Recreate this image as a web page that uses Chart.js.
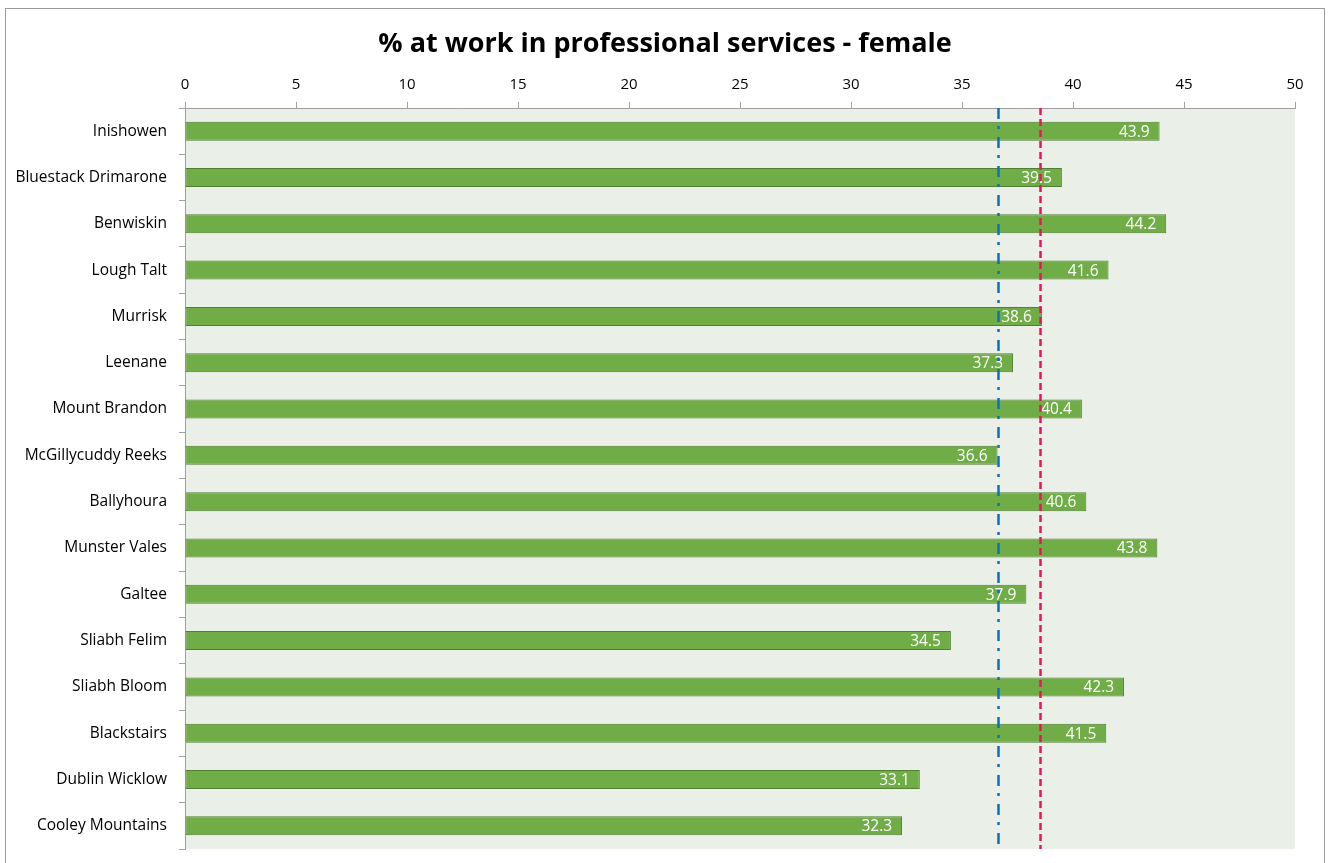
<!DOCTYPE html>
<html>
<head>
<meta charset="utf-8">
<script src="https://cdn.jsdelivr.net/npm/chart.js@4"></script>
<style>
  html, body { margin: 0; padding: 0; background: #fff; }
</style>
</head>
<body>
<canvas id="proChart" width="1330" height="863"></canvas>
<script>
const areas = [
  "Inishowen", "Bluestack Drimarone", "Benwiskin", "Lough Talt", "Murrisk",
  "Leenane", "Mount Brandon", "McGillycuddy Reeks", "Ballyhoura", "Munster Vales",
  "Galtee", "Sliabh Felim", "Sliabh Bloom", "Blackstairs", "Dublin Wicklow",
  "Cooley Mountains"
];
const femalePct = [43.9, 39.5, 44.2, 41.6, 38.6, 37.3, 40.4, 36.6, 40.6, 43.8, 37.9, 34.5, 42.3, 41.5, 33.1, 32.3];
const xTickValues = [0, 5, 10, 15, 20, 25, 30, 35, 40, 45, 50];
const blueLine = 36.6;   // dash-dot reference
const redLine = 38.5;    // dashed reference
const chartTitle = "% at work in professional services - female";

const FONT = "'Open Sans', Lato, sans-serif";
Chart.defaults.font.family = FONT;
Chart.defaults.color = "#000";

// frame around the whole chart, shaded plot area and the title
const backdrop = {
  id: "backdrop",
  beforeDraw(chart) {
    const { ctx, chartArea: a } = chart;
    ctx.save();
    ctx.fillStyle = "#fff";
    ctx.fillRect(0, 0, chart.width, chart.height);
    ctx.strokeStyle = "#9a9a9a";
    ctx.lineWidth = 1;
    ctx.strokeRect(5.5, 8.5, 1319, 880);
    ctx.fillStyle = "#EAEFE7";
    ctx.fillRect(a.left, a.top, a.right - a.left, a.bottom - a.top);
    ctx.fillStyle = "#000";
    ctx.font = "bold 27px " + FONT;
    ctx.textAlign = "center";
    ctx.textBaseline = "alphabetic";
    ctx.fillText(chartTitle, chart.width / 2, 52);
    ctx.restore();
  }
};

// white value labels at the inner end of each bar
const barValues = {
  id: "barValues",
  afterDatasetsDraw(chart) {
    const { ctx } = chart;
    const meta = chart.getDatasetMeta(0);
    ctx.save();
    ctx.font = "15.5px " + FONT;
    ctx.fillStyle = "#fff";
    ctx.textAlign = "right";
    ctx.textBaseline = "middle";
    meta.data.forEach((bar, i) => {
      ctx.fillText(femalePct[i].toFixed(1), bar.x - 10, bar.y + 1);
    });
    ctx.restore();
  }
};

// vertical reference lines
const refLines = {
  id: "refLines",
  afterDraw(chart) {
    const { ctx, chartArea: a, scales } = chart;
    const drawLine = (value, color, dash) => {
      const x = Math.round(scales.x.getPixelForValue(value)) + 0.5;
      ctx.save();
      ctx.strokeStyle = color;
      ctx.lineWidth = 2.5;
      ctx.setLineDash(dash);
      ctx.beginPath();
      ctx.moveTo(x, a.top);
      ctx.lineTo(x, a.bottom);
      ctx.stroke();
      ctx.restore();
    };
    drawLine(blueLine, "#0A70C4", [11, 7, 3, 8]);
    drawLine(redLine, "#F2105E", [7, 4]);
  }
};

const ctx = document.getElementById("proChart").getContext("2d");
const proChart = new Chart(ctx, {
  type: "bar",
  data: {
    labels: areas,
    datasets: [
      {
        label: "female",
        data: femalePct,
        backgroundColor: "#70AD47",
        borderColor: "#507E32",
        borderWidth: 1,
        borderSkipped: false,
        categoryPercentage: 1,
        barPercentage: 0.41,
      },
    ],
  },
  options: {
    indexAxis: "y",
    responsive: false,
    animation: false,
    layout: {
      padding: { left: 0, right: 35, top: 60, bottom: 14 },
    },
    plugins: {
      legend: { display: false },
      tooltip: { enabled: false },
      title: { display: false },
    },
    scales: {
      x: {
        position: "top",
        min: 0,
        max: 50,
        afterBuildTicks(scale) {
          scale.ticks = xTickValues.map((v) => ({ value: v }));
        },
        afterFit(scale) {
          scale.height = 48;
        },
        grid: {
          drawOnChartArea: false,
          drawTicks: true,
          tickLength: 6,
          color: "#A0A0A0",
        },
        border: { display: true, color: "#A0A0A0" },
        ticks: { padding: 8, font: { size: 15 }, color: "#000" },
      },
      y: {
        afterFit(scale) {
          scale.width = 185;
          scale.paddingTop = 0;
          scale.paddingBottom = 0;
        },
        grid: {
          offset: true,
          drawOnChartArea: false,
          drawTicks: true,
          tickLength: 6,
          color: "#A0A0A0",
        },
        border: { display: true, color: "#A0A0A0" },
        ticks: { padding: 12, font: { size: 15.5 }, color: "#000", autoSkip: false },
      },
    },
  },
  plugins: [backdrop, barValues, refLines],
});
</script>
</body>
</html>
